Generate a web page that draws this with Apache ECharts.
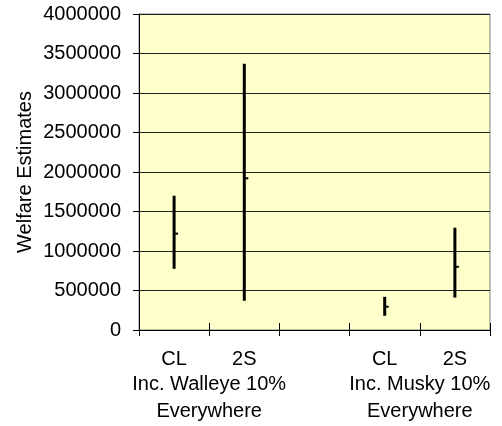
<!DOCTYPE html>
<html>
<head>
<meta charset="utf-8">
<script src="https://cdn.jsdelivr.net/npm/echarts@6/dist/echarts.min.js"></script>
<style>
  html, body { margin: 0; padding: 0; background: #fff; }
  #chart { width: 502px; height: 426px; }
</style>
</head>
<body>
<div id="chart"></div>
<script>
// Model categories, with an empty spacer slot between the two scenarios
const categories = ['CL', '2S', '', 'CL', '2S'];
// Scenario labels, centred under each pair of models
const groupLabels = ['Inc. Walleye 10%\nEverywhere', 'Inc. Musky 10%\nEverywhere'];
const groupPositions = [1, 4];
// Welfare estimate ranges (high / low) and point estimate per model
const highs = [1700000, 3370000, null, 420000, 1295000];
const lows = [775000, 370000, null, 180000, 410000];
const estimates = [1220000, 1920000, null, 295000, 800000];
const yTicks = { min: 0, max: 4000000, interval: 500000 };

const font = 'Liberation Sans, Arial, sans-serif';
const rangeData = [];
categories.forEach((c, i) => {
  if (highs[i] != null) rangeData.push([i, highs[i], lows[i], estimates[i]]);
});

const chart = echarts.init(document.getElementById('chart'), null, { renderer: 'canvas' });
chart.setOption({
  animation: false,
  backgroundColor: '#ffffff',
  grid: {
    left: 139, right: 12, top: 14, bottom: 96,
    show: true, backgroundColor: '#FFFFCC', borderColor: '#808080', borderWidth: 1
  },
  xAxis: [
    {
      type: 'category',
      data: categories,
      boundaryGap: true,
      axisLine: { show: true, lineStyle: { color: '#000', width: 1 } },
      axisTick: { show: true, inside: false, length: 6, alignWithLabel: false, lineStyle: { color: '#000' } },
      axisLabel: { color: '#000', fontFamily: font, fontSize: 20, margin: 19, interval: 0 },
      splitLine: { show: false }
    },
    {
      type: 'value',
      min: 0, max: 5, interval: 1,
      position: 'bottom',
      axisLine: { show: false },
      axisTick: { show: true, inside: true, length: 7, lineStyle: { color: '#000' } },
      axisLabel: {
        color: '#000', fontFamily: font, fontSize: 20, lineHeight: 27, margin: 41,
        showMinLabel: true, showMaxLabel: true,
        formatter: v => {
          const k = groupPositions.indexOf(Math.round(v));
          return k >= 0 ? groupLabels[k] : '';
        }
      },
      splitLine: { show: false }
    }
  ],
  yAxis: {
    type: 'value',
    min: yTicks.min, max: yTicks.max, interval: yTicks.interval,
    name: 'Welfare Estimates',
    nameLocation: 'middle',
    nameRotate: 90,
    nameGap: 104,
    nameMoveOverlap: false,
    nameTextStyle: { color: '#000', fontFamily: font, fontSize: 20 },
    axisLine: { show: true, lineStyle: { color: '#000', width: 1 } },
    axisTick: { show: true, inside: false, length: 6, lineStyle: { color: '#000' } },
    axisLabel: { color: '#000', fontFamily: font, fontSize: 20, margin: 18, formatter: v => String(v) },
    splitLine: { show: true, lineStyle: { color: '#222', width: 1 } }
  },
  series: [{
    type: 'custom',
    xAxisIndex: 0,
    data: rangeData,
    renderItem: (params, api) => {
      const idx = api.value(0);
      const hi = api.coord([idx, api.value(1)]);
      const lo = api.coord([idx, api.value(2)]);
      const mid = api.coord([idx, api.value(3)]);
      return {
        type: 'group',
        children: [
          { type: 'line', shape: { x1: hi[0], y1: hi[1], x2: lo[0], y2: lo[1] },
            style: { stroke: '#000', lineWidth: 3 } },
          { type: 'rect', shape: { x: mid[0] + 1, y: mid[1] - 1, width: 3, height: 2 },
            style: { fill: '#000' } }
        ]
      };
    }
  }]
});
</script>
</body>
</html>
